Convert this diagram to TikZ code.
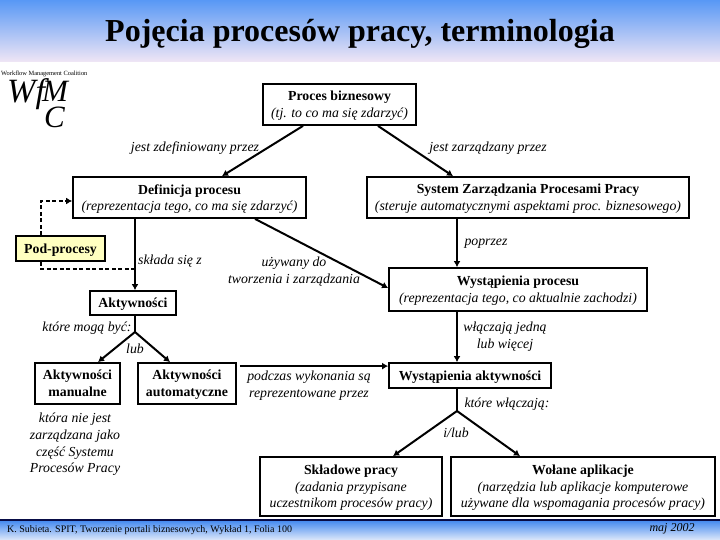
\documentclass[tikz,border=0pt]{standalone}
\usepackage{fontspec}
\setmainfont{Liberation Serif}
\usetikzlibrary{arrows.meta}
\definecolor{barBlue}{RGB}{88,152,245}
\definecolor{barPale}{RGB}{240,230,245}
\definecolor{footDark}{RGB}{8,12,70}
\definecolor{footBlue}{RGB}{72,140,240}
\definecolor{footPale}{RGB}{222,232,250}
\definecolor{subYellow}{RGB}{255,255,192}
\newcommand{\pBoxText}[2]{\textbf{#1}\\\textit{#2}}
\tikzset{
  procbox/.style={draw=black, line width=1.8pt, fill=white, inner sep=0pt, align=center, text depth=0pt, font=\fontsize{13.8}{16.7}\selectfont},
  lbl/.style={inner sep=0pt, align=center, text depth=0pt, font=\fontsize{13.8}{16.7}\selectfont\itshape},
  conn/.style={line width=2pt, -{Latex[length=6pt,width=7pt]}},
  plainconn/.style={line width=2pt},
  dashconn/.style={line width=1.6pt, dash pattern=on 4pt off 2.5pt},
}

\begin{document}
\begin{tikzpicture}[x=1pt,y=-1pt]
\useasboundingbox (0,0) rectangle (720,540);
\shade[top color=barBlue, bottom color=barPale] (0,0) rectangle (720,62);
\fill[footDark] (0,519) rectangle (720,521);
\shade[top color=footBlue, bottom color=footPale] (0,521) rectangle (720,540);
\node[inner sep=0pt] (title) at (360,34) {\fontsize{32}{36}\selectfont\bfseries Pojęcia procesów pracy, terminologia};
% logo
\node[inner sep=0pt, anchor=west] (logoTop) at (1,73.5) {\fontsize{6.4}{7}\selectfont Workflow Management Coalition};
\node[inner sep=0pt, anchor=base west] (logoWf) at (7,103) {\fontsize{34}{34}\selectfont\itshape Wf};
\node[inner sep=0pt, anchor=west, align=left, font=\fontsize{31}{26}\selectfont\itshape] (logoMC) at (42,104) {M\\\hspace*{2pt}C};
% boxes
\node[procbox, minimum width=153pt, minimum height=41pt] (biznes) at (339.5,104.5) {\pBoxText{Proces biznesowy}{(tj. to co ma się zdarzyć)}};
\node[procbox, minimum width=233pt, minimum height=41pt] (definicja) at (189.5,197.5) {\pBoxText{Definicja procesu}{(reprezentacja tego, co ma się zdarzyć)}};
\node[procbox, minimum width=322pt, minimum height=41pt] (system) at (528,197.5) {\pBoxText{System Zarządzania Procesami Pracy}{(steruje automatycznymi aspektami proc. biznesowego)}};
\node[procbox, fill=subYellow, minimum width=89pt, minimum height=25pt] (podproc) at (60.5,248.5) {\textbf{Pod-procesy}};
\node[procbox, minimum width=86pt, minimum height=24pt] (aktyw) at (133,303) {\textbf{Aktywności}};
\node[procbox, minimum width=85pt, minimum height=41pt] (manual) at (77.5,383.5) {\textbf{Aktywności}\\\textbf{manualne}};
\node[procbox, minimum width=98pt, minimum height=41pt] (autom) at (187,383.5) {\textbf{Aktywności}\\\textbf{automatyczne}};
\node[procbox, minimum width=258pt, minimum height=43pt] (wystproc) at (518,289.5) {\pBoxText{Wystąpienia procesu}{(reprezentacja tego, co aktualnie zachodzi)}};
\node[procbox, minimum width=162pt, minimum height=25pt] (wystakt) at (470,375.5) {\textbf{Wystąpienia aktywności}};
\node[procbox, minimum width=182pt, minimum height=59pt] (sklad) at (351,486.5) {\textbf{Składowe pracy}\\\textit{(zadania przypisane}\\\textit{uczestnikom procesów pracy)}};
\node[procbox, minimum width=264pt, minimum height=59pt] (wolane) at (583,486.5) {\textbf{Wołane aplikacje}\\\textit{(narzędzia lub aplikacje komputerowe}\\\textit{używane dla wspomagania procesów pracy)}};
% fork points
\coordinate (forkAkt) at (135,332);
\coordinate (forkSkl) at (457,411);
% connectors
\draw[conn] (biznes.south -| 303,0) -- (definicja.north -| 222,0);
\draw[conn] (biznes.south -| 378,0) -- (system.north -| 453,0);
\draw[conn] (definicja.south -| 135,0) -- (aktyw.north -| 135,0);
\draw[conn] (definicja.south -| 255,0) -- (wystproc.west |- 0,288);
\draw[conn] (system.south -| 457,0) -- (wystproc.north -| 457,0);
\draw[conn] (wystproc.south -| 457,0) -- (wystakt.north -| 457,0);
\draw[plainconn] (aktyw.south -| 135,0) -- (forkAkt);
\draw[conn] (forkAkt) -- (manual.north -| 98,0);
\draw[conn] (forkAkt) -- (autom.north -| 170,0);
\draw[plainconn] (wystakt.south -| 457,0) -- (forkSkl);
\draw[conn] (forkSkl) -- (sklad.north -| 393,0);
\draw[conn] (forkSkl) -- (wolane.north -| 520,0);
\draw[conn] ([xshift=3pt,yshift=-4pt]autom.north east) -- ([yshift=-4pt]wystakt.north west);
\draw[dashconn, -{Latex[length=6pt,width=7pt]}] (podproc.north -| 41,0) -- (41,201) -- (definicja.west |- 0,201);
\draw[dashconn] (podproc.south -| 41,0) -- (41,269) -- (135,269);
% labels
\node[lbl] (lblDef) at (195,147) {jest zdefiniowany przez};
\node[lbl] (lblZarz) at (488,147) {jest zarządzany przez};
\node[lbl] (lblPoprzez) at (486,242) {poprzez};
\node[lbl] (lblSklada) at (170,260) {składa się z};
\node[lbl] (lblUzywany) at (294,270) {używany do\\tworzenia i zarządzania};
\node[lbl] (lblMoga) at (87,327) {które mogą być:};
\node[lbl] (lblLub) at (135,349) {lub};
\node[lbl] (lblPodczas) at (309,384) {podczas wykonania są\\reprezentowane przez};
\node[lbl] (lblNieJest) at (75,443) {która nie jest\\zarządzana jako\\część Systemu\\Procesów Pracy};
\node[lbl] (lblWlacz) at (505,335) {włączają jedną\\lub więcej};
\node[lbl] (lblKtore) at (507,403) {które włączają:};
\node[lbl] (lblIlub) at (456,433) {i/lub};
% footer
\node[inner sep=0pt, anchor=west] (footLeft) at (7,530) {\fontsize{10}{12}\selectfont K. Subieta. SPIT, Tworzenie portali biznesowych, Wykład 1, Folia 100};
\node[inner sep=0pt] (footDate) at (672,529) {\fontsize{12}{14}\selectfont\itshape maj 2002};
\end{tikzpicture}
\end{document}
